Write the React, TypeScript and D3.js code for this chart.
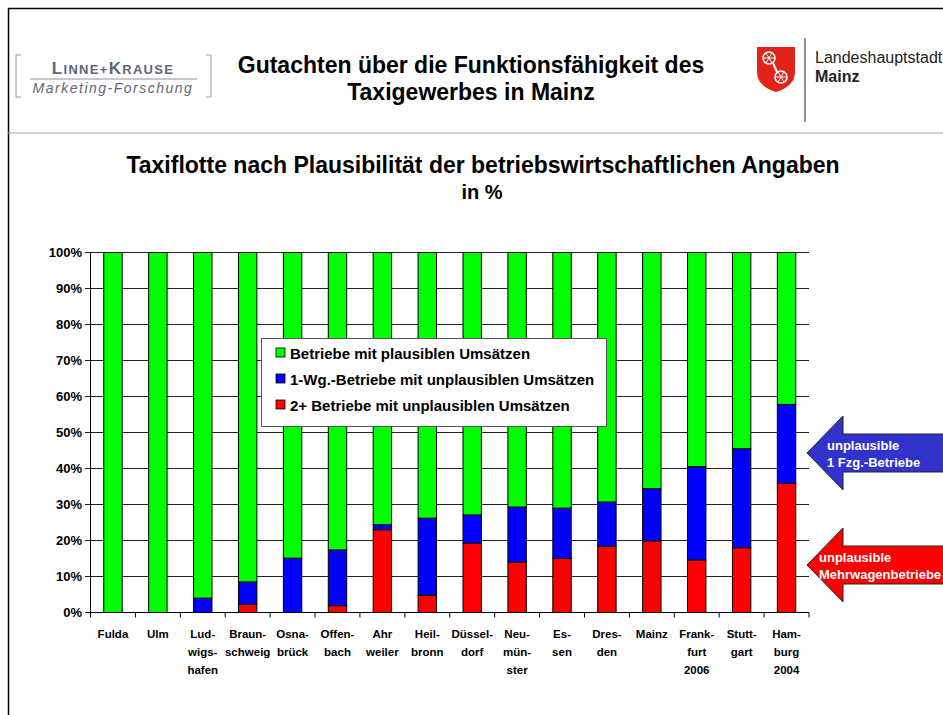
import React, { useRef, useEffect } from 'react';
import * as d3 from 'd3';

// categories, each with up to three lines of label
const cities = [
  ['Fulda'], ['Ulm'], ['Lud-', 'wigs-', 'hafen'], ['Braun-', 'schweig'], ['Osna-', 'brück'],
  ['Offen-', 'bach'], ['Ahr', 'weiler'], ['Heil-', 'bronn'], ['Düssel-', 'dorf'],
  ['Neu-', 'mün-', 'ster'], ['Es-', 'sen'], ['Dres-', 'den'], ['Mainz'],
  ['Frank-', 'furt', '2006'], ['Stutt-', 'gart'], ['Ham-', 'burg', '2004'],
];
// 2+ Betriebe mit unplausiblen Umsätzen (%)
const multiUnplausible = [0, 0, 0, 2.3, 0, 1.9, 23, 4.8, 19.3, 14, 15, 18.4, 19.9, 14.6, 18, 35.9];
// 1-Wg.-Betriebe mit unplausiblen Umsätzen (%)
const singleUnplausible = [0, 0, 4, 6.2, 15.1, 15.5, 1.4, 21.4, 7.8, 15.3, 14, 12.3, 14.5, 25.9, 27.5, 21.9];
const yTicks = [0, 10, 20, 30, 40, 50, 60, 70, 80, 90, 100];
const legendItems = [
  { label: 'Betriebe mit plausiblen Umsätzen', color: '#00ff00' },
  { label: '1-Wg.-Betriebe mit unplausiblen Umsätzen', color: '#0000ff' },
  { label: '2+ Betriebe mit unplausiblen Umsätzen', color: '#ff0000' },
];

const FONT = 'Arial, "Liberation Sans", sans-serif';

const App = () => {
  const svgRef = useRef<SVGSVGElement>(null);

  useEffect(() => {
    const svg = d3.select(svgRef.current);
    svg.selectAll('*').remove();

    const width = 943;
    const height = 715;
    svg.attr('width', width).attr('height', height).style('font-family', FONT);

    svg.append('rect').attr('width', width).attr('height', height).attr('fill', '#fff');

    // slide frame + header separator
    svg.append('path').attr('d', `M8.5,${height}V8.5H${width}`).attr('fill', 'none').attr('stroke', '#000').attr('stroke-width', 1.5);
    svg.append('line').attr('x1', 8).attr('x2', width).attr('y1', 133).attr('y2', 133).attr('stroke', '#9aa0d0').attr('stroke-width', 1);

    // left logo
    const logo = svg.append('g');
    logo.append('path').attr('d', 'M21,55H16V97H21').attr('fill', 'none').attr('stroke', '#999').attr('stroke-width', 1);
    logo.append('path').attr('d', 'M206,55H211V97H206').attr('fill', 'none').attr('stroke', '#999').attr('stroke-width', 1);
    const lk = logo.append('text').attr('x', 113).attr('y', 74).attr('text-anchor', 'middle')
      .attr('font-weight', 'bold').attr('fill', '#5d6679').attr('letter-spacing', 1.3);
    [['L', 17], ['INNE+', 13], ['K', 17], ['RAUSE', 13]].forEach(([t, s]) => {
      lk.append('tspan').attr('font-size', s as number).text(t as string);
    });
    logo.append('line').attr('x1', 30).attr('x2', 197).attr('y1', 79).attr('y2', 79).attr('stroke', '#8a90a0').attr('stroke-width', 1);
    logo.append('text').attr('x', 113).attr('y', 93).attr('text-anchor', 'middle')
      .attr('font-size', 14).attr('font-style', 'italic').attr('fill', '#5d6679').attr('letter-spacing', 1.5)
      .text('Marketing-Forschung');

    // header title
    const head = svg.append('g').attr('font-weight', 'bold').attr('font-size', 23).attr('text-anchor', 'middle').attr('fill', '#000');
    head.append('text').attr('x', 471).attr('y', 73).text('Gutachten über die Funktionsfähigkeit des');
    head.append('text').attr('x', 471).attr('y', 100).text('Taxigewerbes in Mainz');

    // right logo (Mainz)
    const m = svg.append('g');
    m.append('path').attr('d', 'M757,47H795V72Q795,86 776,92Q757,86 757,72Z').attr('fill', '#e2231a');
    const wheel = (cx: number, cy: number) => {
      m.append('circle').attr('cx', cx).attr('cy', cy).attr('r', 6).attr('fill', 'none').attr('stroke', '#fff').attr('stroke-width', 1.6);
      for (let k = 0; k < 3; k++) {
        const a = (k * Math.PI) / 3;
        m.append('line').attr('x1', cx - 6 * Math.cos(a)).attr('x2', cx + 6 * Math.cos(a))
          .attr('y1', cy - 6 * Math.sin(a)).attr('y2', cy + 6 * Math.sin(a)).attr('stroke', '#fff').attr('stroke-width', 1);
      }
    };
    wheel(769, 58);
    wheel(781, 77);
    m.append('line').attr('x1', 773).attr('y1', 63).attr('x2', 777).attr('y2', 72).attr('stroke', '#fff').attr('stroke-width', 2);
    m.append('line').attr('x1', 805).attr('x2', 805).attr('y1', 38).attr('y2', 122).attr('stroke', '#444').attr('stroke-width', 1.2);
    m.append('text').attr('x', 815).attr('y', 63).attr('font-size', 16).attr('fill', '#222').text('Landeshauptstadt');
    m.append('text').attr('x', 815).attr('y', 82).attr('font-size', 16).attr('font-weight', 'bold').attr('fill', '#222').text('Mainz');

    // chart title
    svg.append('text').attr('x', 483).attr('y', 173).attr('text-anchor', 'middle').attr('font-size', 23).attr('font-weight', 'bold').text('Taxiflotte nach Plausibilität der betriebswirtschaftlichen Angaben');
    svg.append('text').attr('x', 482).attr('y', 199).attr('text-anchor', 'middle').attr('font-size', 20).attr('font-weight', 'bold').text('in %');

    // scales
    const x = d3.scaleBand<number>().domain(d3.range(cities.length)).range([90.5, 809]).paddingInner(0.59).paddingOuter(0.295);
    const y = d3.scaleLinear().domain([0, 100]).range([612.5, 252.5]);

    // grid
    const g = svg.append('g');
    g.selectAll('line.grid').data(yTicks).join('line')
      .attr('x1', 85).attr('x2', 809).attr('y1', (d) => y(d)).attr('y2', (d) => y(d))
      .attr('stroke', (d) => (d === 0 ? '#000' : '#222')).attr('stroke-width', 1);
    g.append('line').attr('x1', 90.5).attr('x2', 90.5).attr('y1', y(100)).attr('y2', y(0)).attr('stroke', '#000');
    const step = x.step();
    g.selectAll('line.xt').data(d3.range(cities.length + 1)).join('line')
      .attr('x1', (i) => 90.5 + i * step).attr('x2', (i) => 90.5 + i * step)
      .attr('y1', y(0)).attr('y2', y(0) + 5).attr('stroke', '#000');

    g.selectAll('text.yl').data(yTicks).join('text')
      .attr('x', 82).attr('y', (d) => y(d) + 4.5).attr('text-anchor', 'end')
      .attr('font-size', 13).attr('font-weight', 'bold').text((d) => `${d}%`);

    // stacked bars
    const rows = cities.map((_, i) => ({
      i,
      red: multiUnplausible[i],
      blue: singleUnplausible[i],
      green: 100 - multiUnplausible[i] - singleUnplausible[i],
    }));
    const stack = d3.stack<any>().keys(['red', 'blue', 'green'])(rows);
    const colors: Record<string, string> = { red: '#ff0000', blue: '#0000ff', green: '#00ff00' };
    stack.forEach((layer) => {
      g.append('g').selectAll('rect').data(layer.filter((d) => d[1] - d[0] > 0)).join('rect')
        .attr('x', (d) => x(d.data.i)!)
        .attr('width', x.bandwidth())
        .attr('y', (d) => y(d[1]))
        .attr('height', (d) => y(d[0]) - y(d[1]))
        .attr('fill', colors[layer.key])
        .attr('stroke', '#000').attr('stroke-width', 1);
    });

    // x labels
    const xl = g.append('g').attr('font-size', 11.5).attr('font-weight', 'bold').attr('text-anchor', 'middle');
    cities.forEach((lines, i) => {
      lines.forEach((t, k) => {
        xl.append('text').attr('x', x(i)! + x.bandwidth() / 2).attr('y', 638 + k * 18).text(t);
      });
    });

    // legend
    const lg = svg.append('g');
    lg.append('rect').attr('x', 261.5).attr('y', 338.5).attr('width', 345).attr('height', 88).attr('fill', '#fff').attr('stroke', '#555').attr('stroke-width', 1);
    legendItems.forEach((it, k) => {
      const cy = 353 + k * 26;
      lg.append('rect').attr('x', 276).attr('y', cy - 5).attr('width', 9).attr('height', 9).attr('fill', it.color).attr('stroke', '#000').attr('stroke-width', 0.8);
      lg.append('text').attr('x', 290).attr('y', cy + 5.5).attr('font-size', 15).attr('font-weight', 'bold').text(it.label);
    });

    // arrows
    const arrow = (tipY: number, color: string, lines: string[], tx: number) => {
      const a = svg.append('g');
      a.append('path')
        .attr('d', `M807,${tipY}L843,${tipY - 37}V${tipY - 19}H950V${tipY + 19}H843V${tipY + 37}Z`)
        .attr('fill', color).attr('stroke', '#222').attr('stroke-width', 1);
      lines.forEach((t, k) => {
        a.append('text').attr('x', tx).attr('y', tipY - 3 + k * 17).attr('font-size', 13).attr('font-weight', 'bold').attr('fill', '#fff').text(t);
      });
    };
    arrow(453, '#3333cc', ['unplausible', '1 Fzg.-Betriebe'], 827);
    arrow(565, '#ff0000', ['unplausible', 'Mehrwagenbetriebe'], 819);
  }, []);

  return <svg ref={svgRef} style={{ position: 'absolute', left: 0, top: 0 }} />;
};

export default App;
